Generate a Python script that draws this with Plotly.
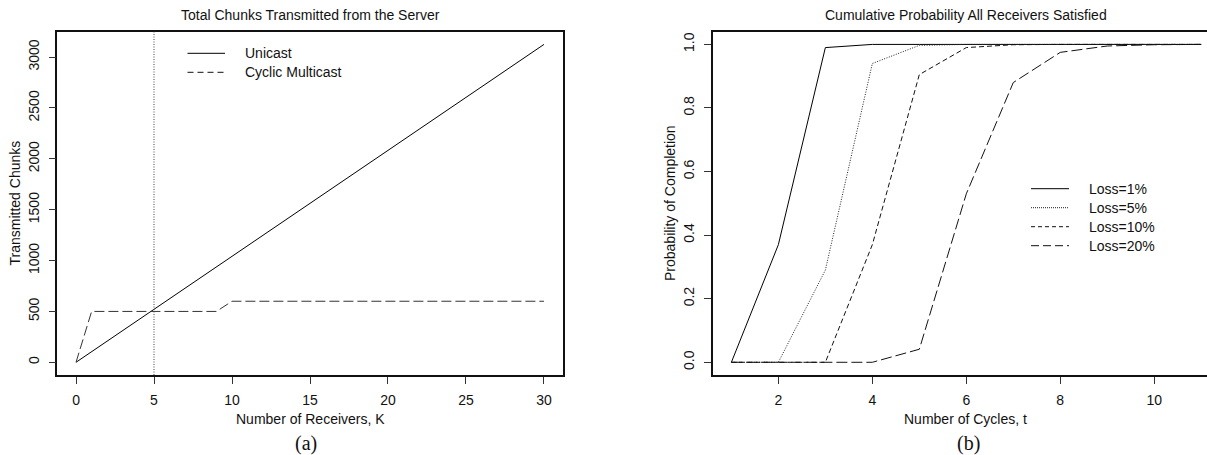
import plotly.graph_objects as go

# ---------------- data ----------------
receivers_k = [0, 1, 2, 3, 4, 5, 6, 7, 8, 9, 10, 11, 12, 13, 14, 15, 16, 17, 18, 19, 20,
               21, 22, 23, 24, 25, 26, 27, 28, 29, 30]
unicast_chunks = [0, 104, 208, 313, 417, 521, 625, 729, 833, 938, 1042, 1146, 1250, 1354,
                  1458, 1563, 1667, 1771, 1875, 1979, 2083, 2188, 2292, 2396, 2500, 2604,
                  2708, 2813, 2917, 3021, 3125]
multicast_chunks = [0, 500, 500, 500, 500, 500, 500, 500, 500, 500, 600, 600, 600, 600,
                    600, 600, 600, 600, 600, 600, 600, 600, 600, 600, 600, 600, 600, 600,
                    600, 600, 600]
crossover_k = 5

cycles_t = [1, 2, 3, 4, 5, 6, 7, 8, 9, 10, 11]
p_loss1 = [0.0, 0.37, 0.99, 1.0, 1.0, 1.0, 1.0, 1.0, 1.0, 1.0, 1.0]
p_loss5 = [0.0, 0.0, 0.29, 0.94, 0.997, 1.0, 1.0, 1.0, 1.0, 1.0, 1.0]
p_loss10 = [0.0, 0.0, 0.0, 0.37, 0.905, 0.99, 0.999, 1.0, 1.0, 1.0, 1.0]
p_loss20 = [0.0, 0.0, 0.0, 0.0, 0.041, 0.53, 0.88, 0.975, 0.995, 0.999, 1.0]

left_legend = ["Unicast", "Cyclic Multicast"]
right_legend = ["Loss=1%", "Loss=5%", "Loss=10%", "Loss=20%"]

# ---------------- layout helpers ----------------
W, H = 1207, 455
FONT = "Liberation Sans, Arial, Helvetica, sans-serif"
SERIF = "Liberation Serif, Times New Roman, serif"


def px(x):
    return x / W


def py(y):
    return 1 - y / H


FR_TOP, FR_BOT = 31.7, 375.0
L_LEFT, L_RIGHT = 57.3, 562.7
R_LEFT, R_FULL_RIGHT = 712.6, 1220.0

r_xmin, r_xmax_full = 0.6, 11.4
r_xmax = r_xmin + (r_xmax_full - r_xmin) * (W - R_LEFT) / (R_FULL_RIGHT - R_LEFT)

fig = go.Figure()

line_black = "#000000"

fig.add_trace(go.Scatter(x=receivers_k, y=unicast_chunks, mode="lines",
                         line=dict(color=line_black, width=1), xaxis="x", yaxis="y",
                         showlegend=False))
fig.add_trace(go.Scatter(x=receivers_k, y=multicast_chunks, mode="lines",
                         line=dict(color="#333333", width=1, dash="10px,4px"),
                         xaxis="x", yaxis="y", showlegend=False))

styles = [
    dict(color=line_black, width=1),
    dict(color="#222222", width=1, dash="1px,1.5px"),
    dict(color="#111111", width=1, dash="5px,3px"),
    dict(color="#111111", width=1, dash="11px,4px"),
]
for vals, st in zip([p_loss1, p_loss5, p_loss10, p_loss20], styles):
    fig.add_trace(go.Scatter(x=cycles_t, y=vals, mode="lines", line=st,
                             xaxis="x2", yaxis="y2", showlegend=False))

axis_common = dict(
    showgrid=False, zeroline=False, showline=True, linecolor="#111111", linewidth=1.5,
    ticks="outside", ticklen=7, tickcolor="#333333", tickwidth=1,
    tickfont=dict(family=FONT, size=14, color="#111111"),
)

fig.update_layout(
    width=W, height=H,
    margin=dict(l=0, r=0, t=0, b=0),
    paper_bgcolor="white", plot_bgcolor="white",
    xaxis=dict(domain=[px(L_LEFT), px(L_RIGHT)], range=[-1.2, 31.2],
               tickvals=[0, 5, 10, 15, 20, 25, 30], mirror=True, anchor="y",
               ticklabelstandoff=4, **axis_common),
    yaxis=dict(domain=[py(FR_BOT), py(FR_TOP)], range=[-125, 3250],
               tickvals=[0, 500, 1000, 1500, 2000, 2500, 3000], mirror=True,
               tickangle=-90, anchor="x", ticklabelstandoff=4, **axis_common),
    xaxis2=dict(domain=[px(R_LEFT), 1.0], range=[r_xmin, r_xmax],
                tickvals=[2, 4, 6, 8, 10], mirror=True, anchor="y2",
                ticklabelstandoff=4, **axis_common),
    yaxis2=dict(domain=[py(FR_BOT), py(FR_TOP)], range=[-0.04, 1.04],
                tickvals=[0, 0.2, 0.4, 0.6, 0.8, 1.0], tickformat=".1f", mirror=False,
                tickangle=-90, anchor="x2", ticklabelstandoff=4, **axis_common),
)

# vertical dotted line at the crossover
fig.add_shape(type="line", xref="x", yref="y domain", x0=crossover_k, x1=crossover_k,
              y0=0, y1=1, line=dict(color="#444444", width=1, dash="1px,1.5px"))

ann = []


def text(x, y, s, size=14, family=FONT, angle=0, xanchor="center"):
    ann.append(dict(x=px(x), y=py(y), xref="paper", yref="paper", text=s, showarrow=False,
                    font=dict(family=family, size=size, color="#111111"),
                    textangle=angle, xanchor=xanchor, yanchor="middle"))


# titles
text(310, 15.5, "Total Chunks Transmitted from the Server")
text(966, 15.5, "Cumulative Probability All Receivers Satisfied")
# axis titles
text(310, 418.5, "Number of Receivers, K")
text(966, 418.5, "Number of Cycles, t")
text(14.5, 203, "Transmitted Chunks", angle=-90)
text(670, 203, "Probability of Completion", angle=-90)
# panel labels
text(306, 443, "(a)", size=20, family=SERIF)
text(968, 443, "(b)", size=20, family=SERIF)

# legends (drawn as keys + labels)
left_keys = [dict(color=line_black, width=1), dict(color="#111111", width=1, dash="6px,4px")]
for i, (lab, st) in enumerate(zip(left_legend, left_keys)):
    yy = 53.3 + 19 * i
    fig.add_shape(type="line", xref="paper", yref="paper", x0=px(187.5), x1=px(225),
                  y0=py(yy), y1=py(yy), line=st)
    text(243, yy, lab, xanchor="left")

right_keys = [
    dict(color=line_black, width=1),
    dict(color="#222222", width=1, dash="1px,1px"),
    dict(color="#111111", width=1, dash="4px,3px"),
    dict(color="#111111", width=1, dash="8px,4px"),
]
for i, (lab, st) in enumerate(zip(right_legend, right_keys)):
    yy = 188.7 + 19 * i
    fig.add_shape(type="line", xref="paper", yref="paper", x0=px(1031), x1=px(1069),
                  y0=py(yy), y1=py(yy), line=st)
    text(1087, yy, lab, xanchor="left")

fig.update_layout(annotations=ann)

fig.write_html(
    "out.html",
    config={"displayModeBar": False},
    post_script="document.body.style.margin='0';document.body.style.padding='0';"
                "document.body.style.overflow='hidden';",
)
